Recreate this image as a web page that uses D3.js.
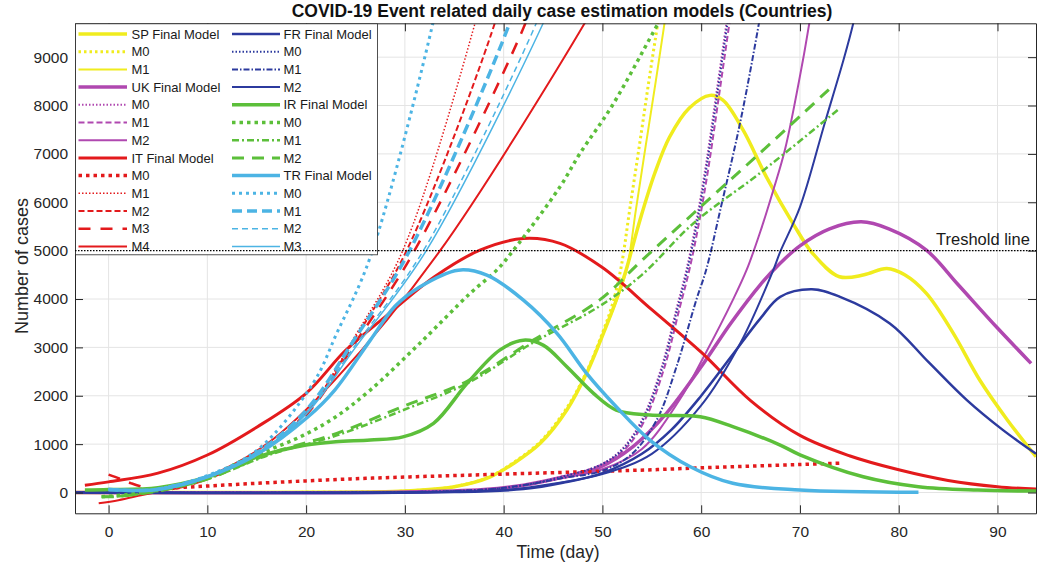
<!DOCTYPE html>
<html>
<head>
<meta charset="utf-8">
<script src="https://cdn.jsdelivr.net/npm/d3@7"></script>
<style>
html,body{margin:0;padding:0;background:#fff;}
svg{display:block;font-family:"Liberation Sans",Arial,sans-serif;}
</style>
</head>
<body>
<svg id="chart" width="1039" height="572"></svg>
<script>
// ---- data: [day, cases] ----
const xTicks = [0,10,20,30,40,50,60,70,80,90];
const yTicks = [0,1000,2000,3000,4000,5000,6000,7000,8000,9000];
const threshold = 5000;

const spFinal = [[-3.4,0],[20,3],[30,30],[35,120],[38.6,320],[41,600],[43.7,1016],[46.4,1705],[48.4,2463],[50.1,3290],[51.4,3977],[52.4,4600],[53.8,5630],[55.3,6600],[56.8,7350],[58.8,7950],[60.9,8210],[62.2,8110],[64.25,7490],[66.6,6525],[69.3,5560],[71.3,4940],[74,4460],[76.5,4500],[78.8,4630],[80.6,4500],[82.8,4115],[85.5,3300],[88.2,2325],[91,1500],[93.9,740]];
const spM0 = [[-3.4,0],[20,3],[30,30],[35,120],[38.6,330],[41,620],[43.7,1050],[46.4,1750],[48.4,2500],[50.1,3350],[51.1,3950],[51.9,4665],[52.8,5900],[53.8,7250],[54.7,8500],[55.65,9760],[56.2,10500]];
const spM1 = [[-3.4,0],[20,3],[30,30],[35,120],[38.6,320],[41,600],[43.7,1030],[46.4,1720],[48.4,2480],[50.1,3300],[51.4,3950],[52.45,4600],[53.4,5860],[54.4,7190],[55.4,8500],[56.33,9760],[56.9,10500]];

const ukFinal = [[-3.4,0],[30,8],[38,60],[42,150],[46,320],[49.7,520],[53.1,950],[56.5,1640],[60,2600],[63,3500],[66,4300],[68,4740],[70,5100],[73,5450],[76.2,5595],[79,5450],[82.8,5010],[86,4300],[90,3400],[93.4,2670]];
const ukM0 = [[-3.4,0],[30,8],[38,60],[42,150],[46,330],[49.7,560],[52,900],[54,1500],[56,2600],[57.5,3800],[58.5,4600],[59.5,5600],[60.5,6800],[61.5,8200],[62.6,9760],[63.2,10600]];
const ukM1 = [[-3.4,0],[30,8],[38,60],[42,150],[46,330],[49.7,560],[52.3,900],[54.3,1500],[56.3,2600],[57.8,3800],[58.8,4600],[59.8,5600],[60.8,6800],[61.8,8200],[62.9,9760],[63.5,10600]];
const ukM2 = [[-3.4,0],[30,8],[38,60],[42,150],[46,300],[50,480],[54,900],[57.8,1911],[60.5,2900],[63.2,3977],[64.6,4600],[66,5400],[67.3,6250],[68.5,7100],[70.3,8935],[71,9760],[71.5,10300]];

const itFinal = [[-2.4,150],[0,220],[5,400],[10,775],[15,1350],[20,2050],[24,2940],[28,3630],[33,4460],[37.6,5010],[42,5250],[45.7,5150],[50,4650],[55,3780],[60,2900],[65,1900],[70,1180],[75,760],[80,470],[85,250],[90,120],[93.9,70]];
const itM0 = [[0,30],[5,80],[10,134],[15,190],[20,240],[25,285],[30,320],[35,350],[40,380],[45,410],[50,440],[55,470],[60,510],[65,545],[70,580],[74,605]];
const itM1 = [[0,0],[5,80],[10,330],[15,800],[20,1650],[25,3250],[29.8,5010],[37.1,9700],[38,10450]];
const itM2 = [[0,0],[5,80],[10,330],[15,800],[20,1650],[25,3200],[30.2,5010],[39.1,9700],[40,10400]];
const itM3 = [[0,370],[1.2,280],[2.3,190],[4,90],[6,60],[10,280],[15,780],[20,1600],[25,3100],[31,5010],[42.2,9700],[43,10200]];
const itM4 = [[-1,-223],[1,-160],[3.4,-52],[6,60],[10,326],[16,1000],[22.9,2324],[33.6,5010],[48.2,9700],[49,10000]];

const frFinal = [[-3.4,0],[35,8],[42,70],[46,200],[50,400],[54,800],[57,1300],[60,2000],[63,2800],[66,3600],[68,4045],[71.2,4200],[74,4050],[79.1,3495],[83,2700],[86.9,1910],[90.5,1300],[93.9,800]];
const frM0 = [[-3.4,0],[30,8],[38,60],[42,150],[46,330],[49.7,560],[52.1,900],[54.1,1500],[56.1,2600],[57.6,3800],[58.6,4600],[59.6,5600],[60.6,6800],[61.6,8200],[62.7,9760],[63.3,10600]];
const frM1 = [[-3.4,0],[30,8],[38,60],[42,150],[46,300],[50,450],[53,800],[55.5,1500],[57.5,2600],[59.5,3977],[60.5,4600],[62,5900],[64,7700],[65.9,9760],[66.5,10500]];
const frM2 = [[-3.4,0],[30,5],[40,50],[45,180],[50,380],[55,800],[60,1800],[64,3100],[67.3,4597],[68,4975],[70,5900],[72.5,7630],[74.4,8935],[75.4,9700],[76,10300]];

const irFinal = [[-2.4,50],[0,60],[5,100],[10,320],[15,730],[20,980],[23,1050],[26.5,1085],[29.8,1150],[32.9,1430],[36.3,2256],[39.6,2944],[42,3150],[44,3047],[46.4,2600],[49.1,2050],[51.4,1705],[54.8,1600],[59.9,1566],[63.2,1360],[68,981],[70,780],[76.4,326],[82,120],[88,50],[93.9,30]];
const irM0 = [[-0.7,-90],[2,-40],[5,50],[10,300],[13,603],[16.5,900],[19.7,1180],[22.9,1550],[26.5,2118],[31.5,3082],[36.6,4115],[39.3,4597],[41,5010],[45.7,6318],[47.7,7000],[51,8000],[55.65,9700],[56.5,10000]];
const irM1 = [[-0.7,-90],[1,-80],[5,30],[10,280],[16.3,780],[23.1,1180],[29.8,1700],[36.3,2256],[43,3100],[49.7,3850],[54,4500],[59.2,5562],[65.9,6595],[74,7937]];
const irM2 = [[-0.7,-90],[1,-80],[5,30],[10,280],[16.3,800],[23.1,1223],[29.8,1780],[36.3,2300],[43,3150],[49.7,3977],[54,4800],[59.2,5768],[65.9,7008],[73.4,8420]];

const trFinal = [[0,60],[3,40],[5,60],[10,326],[15.2,810],[20.2,1566],[22.9,2118],[26.5,3150],[29,3850],[31.5,4250],[35.4,4597],[38.3,4494],[42,3977],[45.4,3290],[48.4,2463],[51.4,1773],[54.8,1085],[58.9,533],[63.2,190],[70,52],[82,5]];
const trM0 = [[0,60],[3,40],[5,70],[10,350],[15,870],[20.7,2256],[23.1,3290],[26.5,4870],[32.9,9760],[33.5,10400]];
const trM1 = [[0,60],[3,40],[5,70],[10,330],[15,820],[20,1700],[25,3200],[30.5,5010],[40.6,9700],[41.5,10300]];
const trM2 = [[0,60],[3,40],[5,70],[10,320],[15,800],[20,1650],[25,3050],[31.9,5010],[43.3,9700],[44,10100]];
const trM3 = [[0,60],[3,40],[5,70],[10,320],[15,800],[20,1620],[25,3000],[32.2,5010],[44,9700],[44.6,10000]];

const seriesNames = ["SP Final Model","M0","M1","UK Final Model","M0","M1","M2","IT Final Model","M0","M1","M2","M3","M4",
                     "FR Final Model","M0","M1","M2","IR Final Model","M0","M1","M2","TR Final Model","M0","M1","M2","M3"];
const seriesData = [spFinal,spM0,spM1,ukFinal,ukM0,ukM1,ukM2,itFinal,itM0,itM1,itM2,itM3,itM4,
                    frFinal,frM0,frM1,frM2,irFinal,irM0,irM1,irM2,trFinal,trM0,trM1,trM2,trM3];

// ---- styles ----
const C = {Y:"#f0ec1e", M:"#b048b0", R:"#e31a1c", N:"#2c3a9e", G:"#5cbf3a", B:"#4cb4e4"};
const styles = [
  {c:C.Y,w:3.5,d:null},{c:C.Y,w:3,d:"2.5,3"},{c:C.Y,w:2,d:null},
  {c:C.M,w:3.5,d:null},{c:C.M,w:2,d:"1.5,2"},{c:C.M,w:2,d:"6,3"},{c:C.M,w:2,d:null},
  {c:C.R,w:3,d:null},{c:C.R,w:3.5,d:"3.5,4"},{c:C.R,w:1.5,d:"1.5,2"},{c:C.R,w:2,d:"6,3"},{c:C.R,w:2.5,d:"12,10"},{c:C.R,w:2,d:null},
  {c:C.N,w:2.5,d:null},{c:C.N,w:2,d:"1.5,2"},{c:C.N,w:2,d:"6,2,1.5,2"},{c:C.N,w:2,d:null},
  {c:C.G,w:3.5,d:null},{c:C.G,w:3.5,d:"3.5,4"},{c:C.G,w:2.5,d:"7,3,2,3"},{c:C.G,w:3,d:"12,8"},
  {c:C.B,w:3.5,d:null},{c:C.B,w:3,d:"3,4"},{c:C.B,w:3.5,d:"10,5"},{c:C.B,w:1.5,d:"6,4"},{c:C.B,w:1.5,d:null}
];

const svg = d3.select("#chart");
const L = 75, R = 1036, T = 23.3, B = 513.3;
const x = d3.scaleLinear().domain([-3.4, 93.9]).range([L, R]);
const y = d3.scaleLinear().domain([-430, 9700]).range([B, T]);

svg.append("rect").attr("width",1039).attr("height",572).attr("fill","#fff");

// grid
const grid = svg.append("g");
grid.selectAll("line.gx").data(xTicks).join("line")
  .attr("x1",d=>x(d)).attr("x2",d=>x(d)).attr("y1",T).attr("y2",B)
  .attr("stroke","#e4e4e4").attr("stroke-width",1);
grid.selectAll("line.gy").data(yTicks).join("line")
  .attr("y1",d=>y(d)).attr("y2",d=>y(d)).attr("x1",L).attr("x2",R)
  .attr("stroke","#e4e4e4").attr("stroke-width",1);

svg.append("defs").append("clipPath").attr("id","clip")
  .append("rect").attr("x",L).attr("y",T).attr("width",R-L).attr("height",B-T);

const line = d3.line().x(d=>x(d[0])).y(d=>y(d[1])).curve(d3.curveCatmullRom.alpha(0.5));
const plot = svg.append("g").attr("clip-path","url(#clip)");
seriesData.forEach((s,i)=>{
  const st = styles[i];
  plot.append("path").attr("d",line(s)).attr("fill","none")
    .attr("stroke",st.c).attr("stroke-width",st.w)
    .attr("stroke-dasharray",st.d).attr("stroke-linejoin","round");
});

// axes (MATLAB style: ticks inside, box)
const axisColor = "#262626";
const fmt = d3.format("d");
const gx = svg.append("g").attr("transform",`translate(0,${B})`)
  .call(d3.axisBottom(x).tickValues(xTicks).tickFormat(fmt).tickSizeInner(-8).tickSizeOuter(0).tickPadding(13));
const gxTop = svg.append("g").attr("transform",`translate(0,${T})`)
  .call(d3.axisTop(x).tickValues(xTicks).tickSizeInner(-8).tickSizeOuter(0).tickFormat(""));
const gy = svg.append("g").attr("transform",`translate(${L},0)`)
  .call(d3.axisLeft(y).tickValues(yTicks).tickFormat(fmt).tickSizeInner(-8).tickSizeOuter(0).tickPadding(7));
const gyR = svg.append("g").attr("transform",`translate(${R},0)`)
  .call(d3.axisRight(y).tickValues(yTicks).tickSizeInner(-8).tickSizeOuter(0).tickFormat(""));
[gx,gxTop,gy,gyR].forEach(g=>{
  g.select(".domain").attr("stroke",axisColor);
  g.selectAll(".tick line").attr("stroke",axisColor);
  g.selectAll("text").attr("fill","#262626").style("font-size","15.5px").style("font-family","'Liberation Sans',Arial,sans-serif");
});

// legend
const lg = svg.append("g");
lg.append("rect").attr("x",L+0.5).attr("y",T+0.5).attr("width",302).attr("height",231)
  .attr("fill","#fff").attr("stroke",axisColor).attr("stroke-width",0.8);
seriesNames.forEach((nm,i)=>{
  const col = i<13?0:1, row = i<13?i:i-13;
  const yy = 34 + row*17.7;
  const x0 = col===0?78.5:232, x1 = col===0?127:280, tx = col===0?131.5:283.5;
  const st = styles[i];
  lg.append("line").attr("x1",x0).attr("x2",x1).attr("y1",yy).attr("y2",yy)
    .attr("stroke",st.c).attr("stroke-width",st.w).attr("stroke-dasharray",st.d);
  lg.append("text").attr("x",tx).attr("y",yy).attr("dy","0.36em")
    .style("font-size","13px").attr("fill","#1a1a1a").text(nm);
});

// threshold line (drawn over legend)
svg.append("line").attr("x1",L).attr("x2",R).attr("y1",y(threshold)).attr("y2",y(threshold))
  .attr("stroke","#000").attr("stroke-width",1.2).attr("stroke-dasharray","1.5,1.5");
svg.append("text").attr("x",936).attr("y",y(threshold)-6).style("font-size","16.5px")
  .attr("fill","#1a1a1a").text("Treshold line");

// title & labels
svg.append("text").attr("x",562).attr("y",17).attr("text-anchor","middle")
  .style("font-size","17.5px").style("font-weight","bold").attr("fill","#111")
  .text("COVID-19 Event related daily case estimation models (Countries)");
svg.append("text").attr("x",558).attr("y",558).attr("text-anchor","middle")
  .style("font-size","17.5px").attr("fill","#262626").text("Time (day)");
svg.append("text").attr("transform","translate(28,266) rotate(-90)").attr("text-anchor","middle")
  .style("font-size","18px").attr("fill","#262626").text("Number of cases");
</script>
</body>
</html>
